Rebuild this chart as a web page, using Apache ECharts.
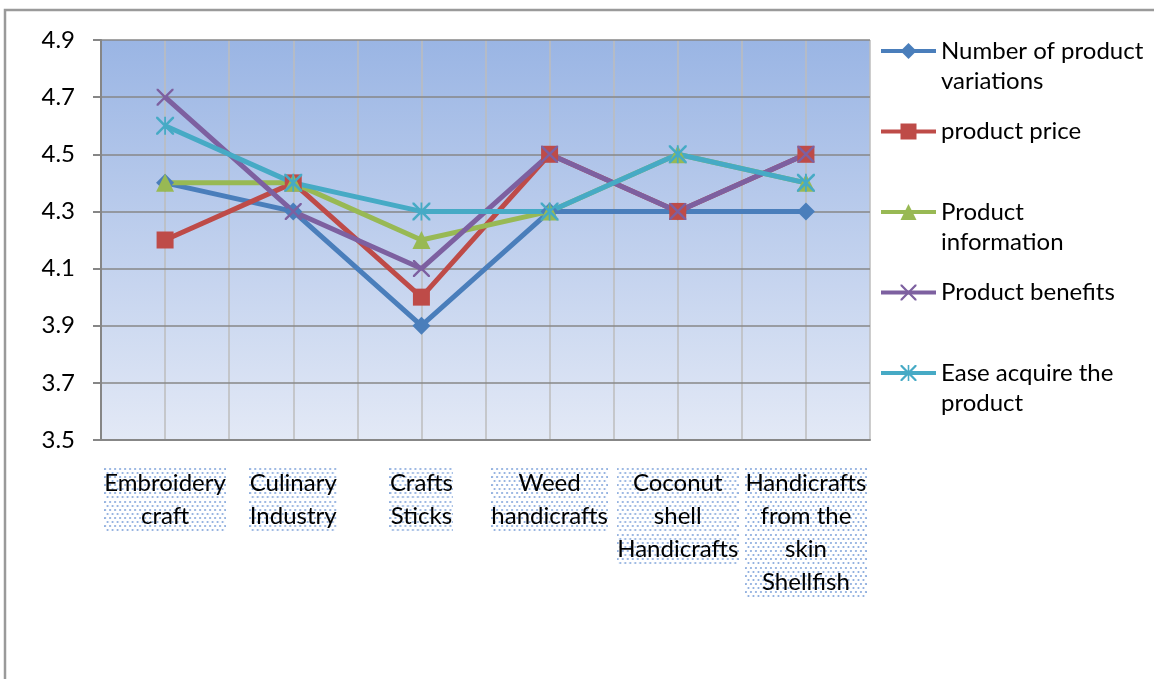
<!DOCTYPE html>
<html>
<head>
<meta charset="utf-8">
<script src="https://cdn.jsdelivr.net/npm/echarts@6/dist/echarts.min.js"></script>
<style>
  html, body { margin: 0; padding: 0; background: #fff; }
  #chart { width: 1154px; height: 679px; }
</style>
</head>
<body>
<div id="chart"></div>
<script>
// data
const categories = ['Embroidery\ncraft', 'Culinary\nIndustry', 'Crafts\nSticks', 'Weed\nhandicrafts', 'Coconut\nshell\nHandicrafts', 'Handicrafts\nfrom the\nskin\nShellfish'];
const seriesNames = ['Number of product variations', 'product price', 'Product information', 'Product benefits', 'Ease acquire the product'];
const legendLabels = ['\nNumber of product\nvariations', 'product price', '\nProduct\ninformation', 'Product benefits', '\nEase acquire the\nproduct'];
const variations = [4.4, 4.3, 3.9, 4.3, 4.3, 4.3];
const price = [4.2, 4.4, 4.0, 4.5, 4.3, 4.5];
const information = [4.4, 4.4, 4.2, 4.3, 4.5, 4.4];
const benefits = [4.7, 4.3, 4.1, 4.5, 4.3, 4.5];
const ease = [4.6, 4.4, 4.3, 4.3, 4.5, 4.4];
const yMin = 3.5, yMax = 4.9, yStep = 0.2;

const colors = ['#4a7ebb', '#be4b48', '#98b954', '#7d60a0', '#46aac5'];
const FONT = 'Lato';
const FS = 24;

// marker shapes (x and asterisk as filled polygons)
const xPath = 'path://M0,0L2,0L10,8L18,0L20,0L20,2L12,10L20,18L20,20L18,20L10,12L2,20L0,20L0,18L8,10L0,2Z';
const starPath = 'path://M0,0L2,0L10,8L18,0L20,0L20,2L12,10L20,18L20,20L18,20L10,12L2,20L0,20L0,18L8,10L0,2Z M9,0L11,0L11,20L9,20Z';

// dotted background for the x labels
function dotCanvas(w, h) {
  const c = document.createElement('canvas');
  c.width = w; c.height = h;
  const g = c.getContext('2d');
  g.fillStyle = '#86a8dc';
  let row = 0;
  for (let y = 2; y < h; y += 4, row++) {
    for (let x = 1 + (row % 2) * 2.5; x < w; x += 5) {
      g.beginPath(); g.arc(x, y, 1.05, 0, Math.PI * 2); g.fill();
    }
  }
  return c;
}
const measure = document.createElement('canvas').getContext('2d');
measure.font = FS + 'px ' + FONT;
const rich = {};
categories.forEach((cat, i) => {
  const w = Math.ceil(Math.max(...cat.split('\n').map(l => measure.measureText(l).width)));
  rich['t' + i] = {
    width: w, height: 33, lineHeight: 33, align: 'center',
    fontFamily: FONT, fontSize: FS, color: '#000',
    backgroundColor: { image: dotCanvas(w, 33) }
  };
});

const chart = echarts.init(document.getElementById('chart'));

const symbols = ['diamond', 'rect', 'triangle', xPath, starPath];
const symbolSizes = [18, 17, 18, 17, 18];
const allData = [variations, price, information, benefits, ease];

const option = {
  animation: false,
  backgroundColor: '#fff',
  color: colors,
  graphic: [{
    type: 'rect',
    shape: { x: 5, y: 10, width: 1200, height: 720 },
    style: { fill: 'none', stroke: '#9a9a9a', lineWidth: 2.5 },
    silent: true
  }],
  grid: {
    left: 101, right: 284, top: 40, bottom: 239,
    show: true,
    borderWidth: 0,
    backgroundColor: new echarts.graphic.LinearGradient(0, 0, 0, 1, [
      { offset: 0, color: '#9ab5e4' },
      { offset: 1, color: '#e3e9f6' }
    ])
  },
  legend: {
    orient: 'vertical',
    left: 879, top: 6,
    padding: 0,
    itemWidth: 55, itemHeight: 20, itemGap: 20.5,
    data: seriesNames,
    lineStyle: { width: 4 },
    formatter: name => legendLabels[seriesNames.indexOf(name)],
    textStyle: { fontFamily: FONT, fontSize: FS, color: '#000', lineHeight: 30 }
  },
  xAxis: [{
    type: 'category',
    data: categories,
    boundaryGap: true,
    axisLine: { lineStyle: { color: '#868686', width: 2 } },
    axisTick: { length: 7, lineStyle: { color: '#868686', width: 2 } },
    splitLine: { show: false },
    axisLabel: {
      interval: 0, margin: 27,
      formatter: (value, idx) => value.split('\n').map(l => '{t' + idx + '|' + l + '}').join('\n'),
      rich: rich
    }
  }, {
    // half-category vertical grid lines
    type: 'value', min: 0, max: 12, interval: 1,
    position: 'bottom',
    axisLine: { show: false }, axisTick: { show: false }, axisLabel: { show: false },
    splitLine: { show: true, lineStyle: { color: '#bcbcbc', width: 1.5 } }
  }],
  yAxis: {
    type: 'value',
    min: yMin, max: yMax, interval: yStep,
    z: 3,
    axisLine: { show: true, lineStyle: { color: '#868686', width: 2 } },
    axisTick: { show: true, length: 8, lineStyle: { color: '#868686', width: 2 } },
    splitLine: { lineStyle: { color: '#878787', width: 1.5 } },
    axisLabel: {
      margin: 26,
      fontFamily: FONT, fontSize: FS, color: '#000',
      formatter: v => v.toFixed(1)
    }
  },
  series: seriesNames.map((name, i) => ({
    name: name,
    type: 'line',
    data: allData[i],
    symbol: symbols[i],
    symbolSize: symbolSizes[i],
    showAllSymbol: true,
    lineStyle: { width: 5, color: colors[i] },
    itemStyle: { color: colors[i] }
  }))
};
chart.setOption(option);
</script>
</body>
</html>
